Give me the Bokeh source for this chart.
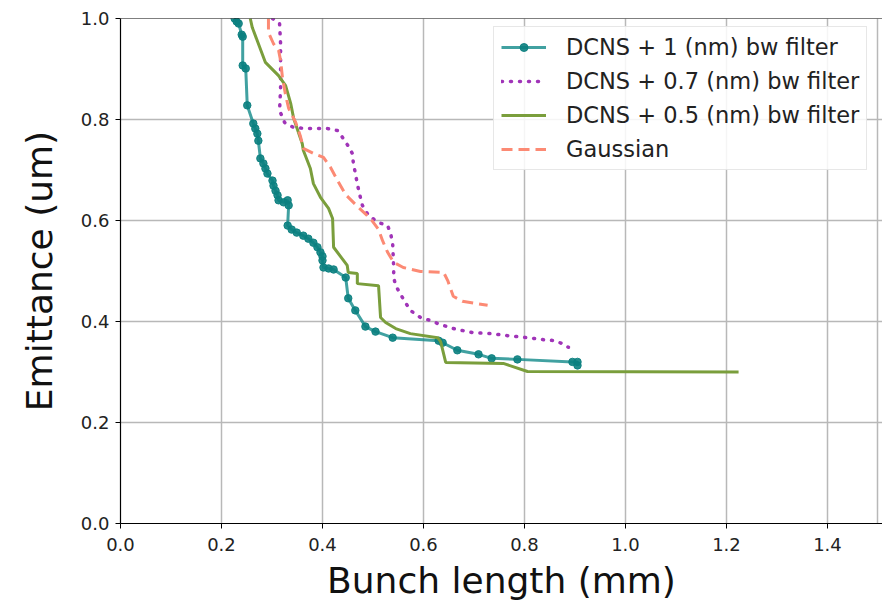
from bokeh.plotting import figure
from bokeh.models import Range1d, FixedTicker, Span, Legend, LegendItem, PrintfTickFormatter
from bokeh.embed import file_html
from bokeh.resources import INLINE

# DCNS + 1 (nm) bw filter
x_1nm = [0.226, 0.230, 0.234, 0.240, 0.242, 0.242, 0.248, 0.251, 0.263, 0.267, 0.271, 0.273,
         0.277, 0.283, 0.287, 0.291, 0.301, 0.303, 0.307, 0.311, 0.313, 0.323, 0.331, 0.333,
         0.331, 0.339, 0.349, 0.362, 0.372, 0.382, 0.390, 0.396, 0.400, 0.400, 0.402, 0.412,
         0.422, 0.446, 0.451, 0.465, 0.485, 0.505, 0.539, 0.630, 0.638, 0.667, 0.709, 0.735,
         0.786, 0.895, 0.905, 0.905]
y_1nm = [1.000, 0.994, 0.990, 0.968, 0.964, 0.907, 0.901, 0.828, 0.792, 0.782, 0.772, 0.758,
         0.723, 0.713, 0.703, 0.693, 0.679, 0.669, 0.659, 0.650, 0.640, 0.636, 0.640, 0.630,
         0.590, 0.582, 0.576, 0.570, 0.564, 0.556, 0.547, 0.537, 0.529, 0.521, 0.507, 0.505,
         0.503, 0.487, 0.446, 0.422, 0.390, 0.380, 0.368, 0.362, 0.358, 0.343, 0.335, 0.327,
         0.325, 0.320, 0.320, 0.313]

# DCNS + 0.7 (nm) bw filter
x_07nm = [0.301, 0.315, 0.317, 0.317, 0.315, 0.325, 0.343, 0.372, 0.410, 0.430, 0.440, 0.450,
          0.459, 0.461, 0.467, 0.471, 0.475, 0.479, 0.491, 0.511, 0.529, 0.535, 0.539, 0.541,
          0.541, 0.545, 0.554, 0.564, 0.574, 0.594, 0.614, 0.628, 0.659, 0.697, 0.733, 0.766,
          0.806, 0.838, 0.861, 0.875, 0.887]
y_07nm = [1.000, 0.990, 0.950, 0.861, 0.818, 0.794, 0.784, 0.782, 0.782, 0.778, 0.764, 0.749,
          0.733, 0.715, 0.683, 0.663, 0.646, 0.630, 0.610, 0.596, 0.590, 0.574, 0.554, 0.507,
          0.487, 0.471, 0.455, 0.438, 0.422, 0.408, 0.402, 0.396, 0.386, 0.378, 0.376, 0.372,
          0.368, 0.364, 0.362, 0.356, 0.349]

# DCNS + 0.5 (nm) bw filter
x_05nm = [0.257, 0.261, 0.287, 0.313, 0.327, 0.337, 0.343, 0.360, 0.362, 0.376, 0.382, 0.396,
          0.412, 0.420, 0.422, 0.449, 0.451, 0.469, 0.469, 0.511, 0.515, 0.525, 0.545, 0.574,
          0.628, 0.634, 0.644, 0.758, 0.806, 1.224]
y_05nm = [1.000, 0.982, 0.913, 0.887, 0.867, 0.832, 0.802, 0.752, 0.739, 0.703, 0.673, 0.646,
          0.624, 0.604, 0.547, 0.511, 0.497, 0.495, 0.475, 0.471, 0.408, 0.398, 0.386, 0.376,
          0.368, 0.360, 0.319, 0.317, 0.301, 0.300]

# Gaussian
x_gauss = [0.293, 0.293, 0.303, 0.313, 0.317, 0.321, 0.327, 0.333, 0.347, 0.356, 0.362, 0.386,
           0.402, 0.416, 0.430, 0.446, 0.469, 0.495, 0.511, 0.519, 0.529, 0.541, 0.560, 0.594,
           0.640, 0.648, 0.659, 0.677, 0.727]
y_gauss = [1.000, 0.972, 0.950, 0.937, 0.917, 0.881, 0.848, 0.822, 0.794, 0.768, 0.743, 0.731,
           0.725, 0.705, 0.679, 0.651, 0.628, 0.604, 0.582, 0.560, 0.537, 0.517, 0.507, 0.499,
           0.497, 0.481, 0.450, 0.440, 0.432]

x_ticks = [0.0, 0.2, 0.4, 0.6, 0.8, 1.0, 1.2, 1.4]
y_ticks = [0.0, 0.2, 0.4, 0.6, 0.8, 1.0]

labels = ["DCNS + 1 (nm) bw filter", "DCNS + 0.7 (nm) bw filter",
          "DCNS + 0.5 (nm) bw filter", "Gaussian"]

FONT = "DejaVu Sans"

p = figure(width=882, height=606, output_backend="svg", toolbar_location=None,
           x_range=Range1d(0, 1.509), y_range=Range1d(0, 1.0),
           min_border_left=120, min_border_right=0, min_border_top=18, min_border_bottom=83)
p.outline_line_color = None
p.background_fill_color = "white"
p.border_fill_color = "white"

TEAL = "#128a8a"
PURPLE = "#a034b8"
GREEN = "#7a9e3c"
SALMON = "#fc8a74"

r1 = p.line(x_1nm, y_1nm, line_color=TEAL, line_width=3, line_alpha=0.8)
r1m = p.scatter(x_1nm, y_1nm, marker="circle", size=7.5, fill_color="#0b8080",
                line_color="#0b8080", alpha=0.9)
r2 = p.line(x_07nm, y_07nm, line_color=PURPLE, line_width=3.5, line_dash="1 8", line_cap="round")
r3 = p.line(x_05nm, y_05nm, line_color=GREEN, line_width=3)
r4 = p.line(x_gauss, y_gauss, line_color=SALMON, line_width=3, line_dash="11 6")

p.add_layout(Span(location=1.0, dimension="width", line_color="black", line_width=1.2))

legend = Legend(items=[
    LegendItem(label=labels[0], renderers=[r1, r1m]),
    LegendItem(label=labels[1], renderers=[r2]),
    LegendItem(label=labels[2], renderers=[r3]),
    LegendItem(label=labels[3], renderers=[r4]),
], location=(373, 353))
legend.label_text_font = FONT
legend.label_text_font_size = "22.5px"
legend.label_text_color = "#222222"
legend.glyph_width = 45
legend.glyph_height = 20
legend.label_standoff = 20
legend.spacing = 8
legend.padding = 7
legend.margin = 0
legend.border_line_color = "#d0d0d0"
legend.border_line_width = 1.2
legend.background_fill_alpha = 0.85
p.add_layout(legend, "center")

for ax in (p.xaxis[0], p.yaxis[0]):
    ax.axis_line_color = "black"
    ax.axis_line_width = 1.2
    ax.major_tick_line_color = "black"
    ax.major_tick_out = 5
    ax.major_tick_in = 0
    ax.minor_tick_line_color = None
    ax.major_label_text_font = FONT
    ax.major_label_text_font_size = "18px"
    ax.major_label_text_color = "#222222"
    ax.axis_label_text_font = FONT
    ax.axis_label_text_font_size = "36px"
    ax.axis_label_text_font_style = "normal"
    ax.axis_label_text_color = "#111111"
    ax.formatter = PrintfTickFormatter(format="%.1f")

p.xaxis[0].ticker = FixedTicker(ticks=x_ticks)
p.yaxis[0].ticker = FixedTicker(ticks=y_ticks)
p.xaxis[0].axis_label = "Bunch length (mm)"
p.yaxis[0].axis_label = "Emittance (um)"
p.xaxis[0].major_label_standoff = 9
p.yaxis[0].major_label_standoff = 6
p.xaxis[0].axis_label_standoff = 6
p.yaxis[0].axis_label_standoff = 18

p.xgrid[0].ticker = FixedTicker(ticks=x_ticks + [1.5])
p.ygrid[0].ticker = FixedTicker(ticks=y_ticks)
p.grid.grid_line_color = "#b8b8b8"
p.grid.grid_line_width = 1.5

open("out.html", "w").write(file_html(p, INLINE))
